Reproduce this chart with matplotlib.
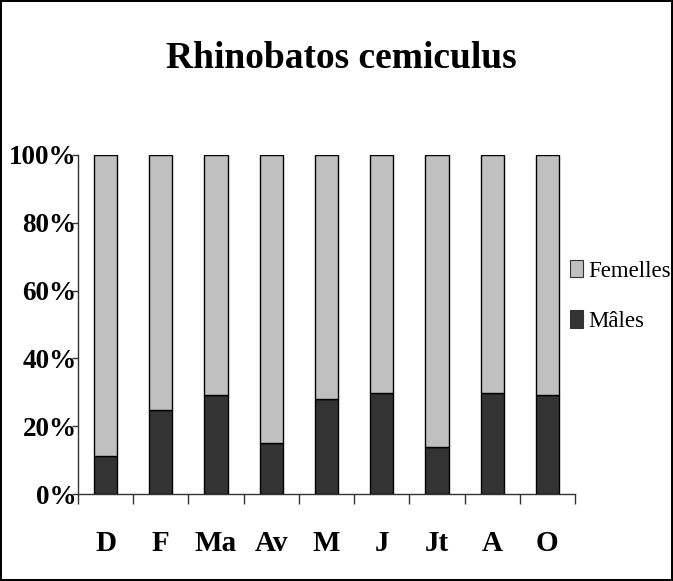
import matplotlib
matplotlib.use("Agg")
import matplotlib.pyplot as plt
from matplotlib.patches import Patch
import numpy as np

categories = ["D", "F", "Ma", "Av", "M", "J", "Jt", "A", "O"]
males = [11.2, 24.8, 29.1, 15.0, 28.0, 29.9, 14.0, 29.9, 29.1]
femelles = [100 - m for m in males]
y_ticks = [0, 20, 40, 60, 80, 100]
y_labels = ["0%", "20%", "40%", "60%", "80%", "100%"]
title = "Rhinobatos cemiculus"

plt.rcParams['font.family'] = ['Liberation Serif', 'DejaVu Serif']

W, H = 673, 581
fig = plt.figure(figsize=(W / 100, H / 100), dpi=100, linewidth=1.5, edgecolor='black')
ax = fig.add_axes([78 / W, 1 - 494 / H, (575 - 78) / W, (494 - 155) / H])

x = np.arange(len(categories))
bw = 0.42
ax.bar(x, males, bw, color='#333333', edgecolor='black', linewidth=1.0, label='Mâles')
ax.bar(x, femelles, bw, bottom=males, color='#C0C0C0', edgecolor='black', linewidth=1.0, label='Femelles')

ax.set_xlim(-0.5, len(categories) - 0.5)
ax.set_ylim(0, 100)
ax.set_yticks(y_ticks)
ax.set_yticklabels(y_labels, fontsize=19.5, fontweight='bold')
ax.set_xticks(x)
ax.set_xticklabels(categories, fontsize=21, fontweight='bold')
ax.set_xticks(np.arange(-0.5, len(categories)), minor=True)
ax.tick_params(axis='x', which='major', length=0, pad=26)
ax.tick_params(axis='x', which='minor', length=7, width=1, direction='out', color='#333333')
ax.tick_params(axis='y', length=4.5, width=1, direction='out', pad=-3.5, color='#333333')

for s in ['top', 'right']:
    ax.spines[s].set_visible(False)
for s in ['left', 'bottom']:
    ax.spines[s].set_color('#333333')
    ax.spines[s].set_linewidth(1)

fig.text(341 / W, 1 - 68 / H, title, ha='center', va='baseline', fontsize=27, fontweight='bold')

handles = [Patch(facecolor='#C0C0C0', edgecolor='#333333', linewidth=0.8, label='Femelles'),
           Patch(facecolor='#333333', edgecolor='#333333', linewidth=0.8, label='Mâles')]
fig.legend(handles=handles, loc='center left', bbox_to_anchor=(570 / W, 1 - 296 / H),
           frameon=False, fontsize=16.5, handlelength=0.55, handleheight=0.8,
           handletextpad=0.25, labelspacing=1.25, borderpad=0, borderaxespad=0)

fig.savefig("out.png", dpi=100)
